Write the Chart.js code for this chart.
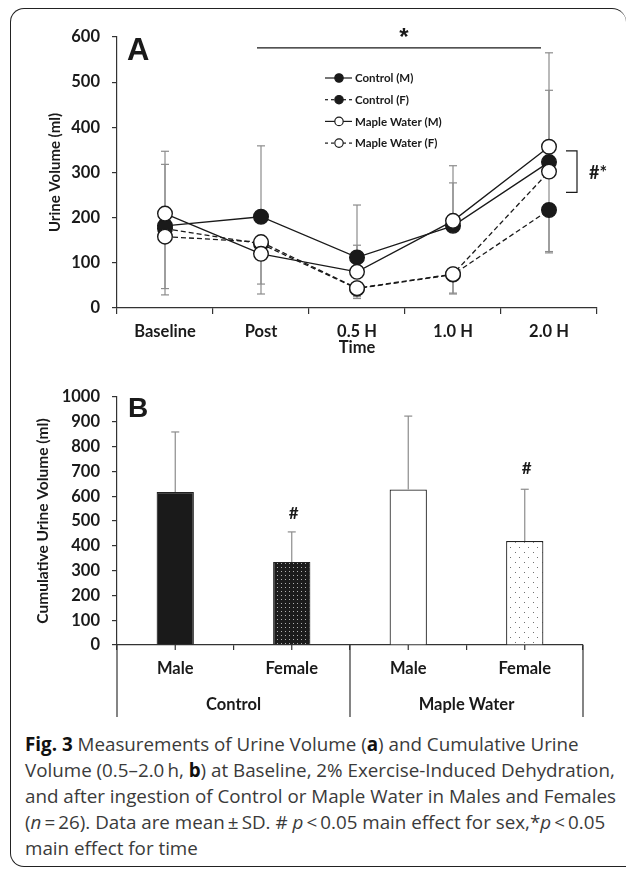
<!DOCTYPE html>
<html>
<head>
<meta charset="utf-8">
<script src="https://cdn.jsdelivr.net/npm/chart.js@4.4.0/dist/chart.umd.min.js"></script>
<style>
  body { margin: 0; background: #fff; width: 627px; height: 869px; overflow: hidden; position: relative; }
  #frame { position: absolute; left: 10px; top: 8px; width: 616px; height: 859px; box-sizing: border-box;
           border: 1.5px solid #222; border-right: none; border-radius: 14px 14px 0 14px; }
  #chartA { position: absolute; left: 0; top: 0; }
  #chartB { position: absolute; left: 0; top: 370px; }
  #caption { position: absolute; left: 25px; top: 731px; font-family: 'Open Sans', sans-serif; font-size: 18.8px;
             line-height: 26px; color: #3a3a3a; white-space: nowrap; }
  #caption b { color: #111; }
</style>
</head>
<body>
<div id="frame"></div>
<canvas id="chartA" width="627" height="360"></canvas>
<canvas id="chartB" width="627" height="360"></canvas>
<div id="caption"><b>Fig. 3</b> Measurements of Urine Volume (<b>a</b>) and Cumulative Urine<br>Volume (0.5–2.0&#8201;h, <b>b</b>) at Baseline, 2% Exercise-Induced Dehydration,<br>and after ingestion of Control or Maple Water in Males and Females<br>(<i>n</i>&#8201;=&#8201;26). Data are mean&#8201;±&#8201;SD. # <i>p</i>&#8201;&lt;&#8201;0.05 main effect for sex,*<i>p</i>&#8201;&lt;&#8201;0.05<br>main effect for time</div>
<script>
// panel A: urine volume over time (ml)
var timeLabels = ['Baseline', 'Post', '0.5 H', '1.0 H', '2.0 H'];
var controlM = [182, 202, 112, 182, 323];
var controlF = [176, 142, 43, 74, 217];
var mapleM = [209, 120, 80, 193, 357];
var mapleF = [158, 146, 44, 75, 302];
// SD bars, drawn either above (Up) or below (Down) the mean
var controlMUp = [136, 157, 116, 95, 159];
var controlFDown = [133, 89, 18, 41, 92];
var mapleMUp = [138, null, 59, 122, 208];
var mapleMDown = [null, 89, null, null, null];
var mapleFDown = [129, null, 23, 44, 180];
var seriesNames = ['Control (M)', 'Control (F)', 'Maple Water (M)', 'Maple Water (F)'];

// panel B: cumulative urine volume (ml)
var sexLabels = ['Male', 'Female', 'Male', 'Female'];
var groupLabels = ['Control', 'Maple Water'];
var cumVolume = [617, 335, 627, 419];
var cumSD = [242, 121, 296, 209];
var sexMarks = [null, 530, null, 712];

Chart.defaults.font.family = 'Lato';
Chart.defaults.font.weight = 'bold';
Chart.defaults.font.size = 16.5;
Chart.defaults.color = '#1a1a1a';
Chart.defaults.animation = false;

var INK = '#1a1a1a';
var AXIS = '#333';
var ERR = '#8c8c8c';

function plain(v) {
    return String(v);
}

function seg(ctx, x1, y1, x2, y2) {
    ctx.beginPath();
    ctx.moveTo(x1, y1);
    ctx.lineTo(x2, y2);
    ctx.stroke();
}

function lineSet(label, data, filled, dashed, order) {
    return {
        label: label,
        data: data,
        order: order,
        borderColor: INK,
        borderWidth: 1.3,
        borderDash: dashed ? [5, 3] : [],
        pointRadius: 7.3,
        pointHoverRadius: 7.3,
        pointBorderWidth: 1.4,
        pointBorderColor: INK,
        pointBackgroundColor: filled ? INK : '#fff',
        fill: false,
        tension: 0,
    };
}

var errorBarsA = {
    id: 'errorBarsA',
    beforeDatasetsDraw: function(chart) {
        var ctx = chart.ctx, x = chart.scales.x, y = chart.scales.y;
        var bars = [[controlM, controlMUp, 1], [controlF, controlFDown, -1],
                    [mapleM, mapleMUp, 1], [mapleM, mapleMDown, -1], [mapleF, mapleFDown, -1]];
        ctx.save();
        ctx.strokeStyle = ERR;
        ctx.lineWidth = 1.2;
        bars.forEach(function(b) {
            b[0].forEach(function(m, i) {
                if (b[1][i] == null) return;
                var px = x.getPixelForValue(i);
                var y0 = y.getPixelForValue(m);
                var y1 = y.getPixelForValue(m + b[2] * b[1][i]);
                seg(ctx, px, y0, px, y1);
                seg(ctx, px - 4, y1, px + 4, y1);
            });
        });
        ctx.restore();
    }
};

var notesA = {
    id: 'notesA',
    afterDraw: function(chart) {
        var ctx = chart.ctx, x = chart.scales.x, y = chart.scales.y;
        ctx.save();
        ctx.fillStyle = INK;
        ctx.strokeStyle = INK;
        ctx.font = 'bold 31px "Liberation Sans"';
        ctx.textBaseline = 'alphabetic';
        ctx.fillText('A', 127, 60);

        // time effect line with star
        ctx.lineWidth = 1.2;
        var ys = y.getPixelForValue(576);
        seg(ctx, x.getPixelForValue(1) - 4, ys, x.getPixelForValue(4) - 8, ys);
        ctx.font = 'bold 24px "Liberation Sans"';
        ctx.textAlign = 'center';
        ctx.fillText('*', 404, 45);

        // sex effect bracket at 2.0 H
        var bx = 577, yt = y.getPixelForValue(348), yb = y.getPixelForValue(256);
        ctx.beginPath();
        ctx.moveTo(566, yt); ctx.lineTo(bx, yt); ctx.lineTo(bx, yb); ctx.lineTo(566, yb);
        ctx.stroke();
        ctx.font = 'bold 18px Lato';
        ctx.textBaseline = 'middle';
        ctx.fillText('#*', 598, y.getPixelForValue(298));

        // legend
        var sets = chart.data.datasets;
        ctx.textAlign = 'left';
        ctx.font = 'bold 11.5px Lato';
        for (var i = 0; i < sets.length; i++) {
            var ds = sets[i];
            var ly = 78 + i * 21.7;
            ctx.lineWidth = 1.2;
            ctx.setLineDash(ds.borderDash.length ? [3, 3] : []);
            seg(ctx, 325, ly, 352, ly);
            ctx.setLineDash([]);
            ctx.beginPath();
            ctx.arc(339, ly, 4.2, 0, Math.PI * 2);
            ctx.fillStyle = ds.pointBackgroundColor;
            ctx.fill();
            ctx.stroke();
            ctx.fillStyle = INK;
            ctx.fillText(ds.label, 355, ly + 0.5);
        }
        ctx.restore();
    }
};

new Chart(document.getElementById('chartA'), {
    type: 'line',
    data: {
        labels: timeLabels,
        datasets: [
            lineSet(seriesNames[0], controlM, true, false, 2),
            lineSet(seriesNames[1], controlF, true, true, 2),
            lineSet(seriesNames[2], mapleM, false, false, 1),
            lineSet(seriesNames[3], mapleF, false, true, 1),
        ],
    },
    options: {
        responsive: false,
        layout: { padding: { top: 37, right: 30, left: 0, bottom: 0 } },
        plugins: { legend: { display: false }, tooltip: { enabled: false } },
        scales: {
            x: {
                offset: true,
                grid: { offset: true, drawOnChartArea: false, tickLength: 6, color: AXIS, lineWidth: 1.2 },
                border: { color: AXIS, width: 1.2 },
                ticks: { padding: 8, color: INK },
                title: { display: true, text: 'Time', color: INK, font: { size: 16.5, weight: 'bold' }, padding: { top: 0, bottom: 2 } },
                afterFit: function(s) { s.height = 52; },
            },
            y: {
                min: 0,
                max: 600,
                ticks: { stepSize: 100, padding: 12, color: INK, callback: plain },
                grid: { drawOnChartArea: false, tickLength: 5, color: AXIS, lineWidth: 1.2 },
                border: { color: AXIS, width: 1.2 },
                title: { display: true, text: 'Urine Volume (ml)', color: INK, font: { size: 15, weight: 'bold' }, padding: { top: 46, bottom: 0 } },
                afterFit: function(s) { s.width = 117; },
            },
        },
    },
    plugins: [errorBarsA, notesA],
});

function dotPattern(bg, dot, w, h, pts) {
    var c = document.createElement('canvas');
    c.width = w;
    c.height = h;
    var g = c.getContext('2d');
    g.fillStyle = bg;
    g.fillRect(0, 0, w, h);
    g.fillStyle = dot;
    pts.forEach(function(p) { g.fillRect(p[0], p[1], 1, 1); });
    return g.createPattern(c, 'repeat');
}

var denseDots = dotPattern('#1c1c1c', '#b0b0b0', 4, 4, [[1, 1]]);
var sparseDots = dotPattern('#fff', '#707070', 9, 10, [[2, 2], [6, 7]]);

var notesB = {
    id: 'notesB',
    afterDraw: function(chart) {
        var ctx = chart.ctx, x = chart.scales.x, y = chart.scales.y, a = chart.chartArea;
        var n = sexLabels.length, w = (a.right - a.left) / n;
        ctx.save();
        ctx.fillStyle = INK;
        ctx.lineWidth = 1.2;

        // SD above each bar
        ctx.strokeStyle = ERR;
        cumVolume.forEach(function(v, i) {
            var px = x.getPixelForValue(i);
            var y0 = y.getPixelForValue(v), y1 = y.getPixelForValue(v + cumSD[i]);
            seg(ctx, px, y0, px, y1);
            seg(ctx, px - 4, y1, px + 4, y1);
        });

        // tick marks under category centres, long group dividers
        ctx.strokeStyle = AXIS;
        for (var i = 0; i < n; i++) {
            var px = x.getPixelForValue(i);
            seg(ctx, px, a.bottom, px, a.bottom + 5);
        }
        var per = n / groupLabels.length;
        for (var g = 0; g <= groupLabels.length; g++) {
            var gx = a.left + g * per * w;
            seg(ctx, gx, a.bottom, gx, a.bottom + 72);
        }
        ctx.font = 'bold 16.5px Lato';
        ctx.textAlign = 'center';
        ctx.textBaseline = 'middle';
        groupLabels.forEach(function(lab, gi) {
            ctx.fillText(lab, a.left + (gi + 0.5) * per * w, a.bottom + 60);
        });

        // sex effect marks
        ctx.font = 'bold 17px Lato';
        sexMarks.forEach(function(v, i) {
            if (v == null) return;
            ctx.fillText('#', x.getPixelForValue(i) + 2, y.getPixelForValue(v));
        });

        ctx.textAlign = 'left';
        ctx.textBaseline = 'alphabetic';
        ctx.font = 'bold 28px "Liberation Sans"';
        ctx.fillText('B', 128, 47);
        ctx.restore();
    }
};

new Chart(document.getElementById('chartB'), {
    type: 'bar',
    data: {
        labels: sexLabels,
        datasets: [{
            data: cumVolume,
            backgroundColor: [INK, denseDots, '#fff', sparseDots],
            borderColor: '#222',
            borderWidth: 1.2,
            categoryPercentage: 1,
            barPercentage: 0.32,
        }],
    },
    options: {
        responsive: false,
        layout: { padding: { top: 27, right: 44, left: 0, bottom: 0 } },
        plugins: { legend: { display: false }, tooltip: { enabled: false } },
        scales: {
            x: {
                grid: { offset: true, drawOnChartArea: false, tickLength: 5, color: AXIS, lineWidth: 1.2 },
                border: { color: AXIS, width: 1.2 },
                ticks: { padding: 9, color: INK },
                afterFit: function(s) { s.height = 85; },
            },
            y: {
                min: 0,
                max: 1000,
                ticks: { stepSize: 100, padding: 12, color: INK, callback: plain },
                grid: { drawOnChartArea: false, tickLength: 5, color: AXIS, lineWidth: 1.2 },
                border: { color: AXIS, width: 1.2 },
                title: { display: true, text: 'Cumulative Urine Volume (ml)', color: INK, font: { size: 15.5, weight: 'bold' }, padding: { top: 34, bottom: 0 } },
                afterFit: function(s) { s.width = 117; },
            },
        },
    },
    plugins: [notesB],
});
</script>
</body>
</html>
